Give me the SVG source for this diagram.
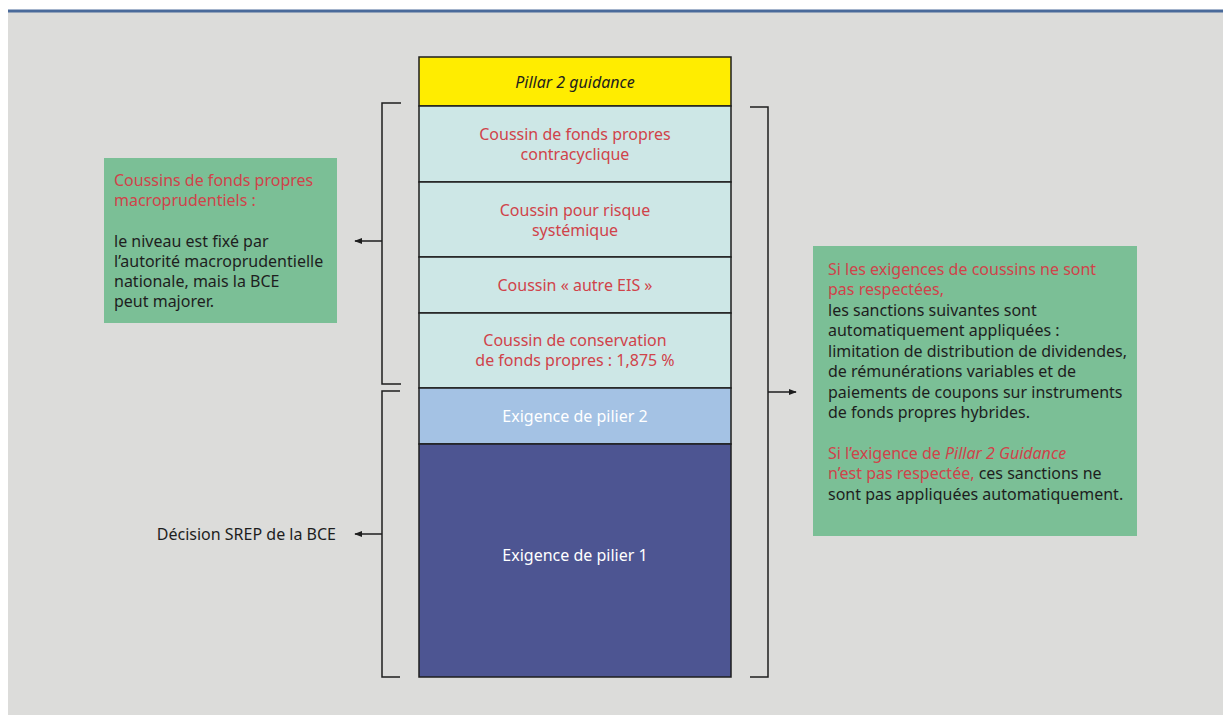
<svg xmlns="http://www.w3.org/2000/svg" width="1223" height="715" viewBox="0 0 1223 715">
<defs>
<style>
text{font-family:"Noto Sans","Open Sans",sans-serif;font-size:16px;}
.c{text-anchor:middle;}
.red{fill:#d0434a;}
.blk{fill:#1e1e1e;}
.wh{fill:#ffffff;}
.cell{stroke:#1e1e1e;stroke-width:1.5;}
.br{fill:none;stroke:#1e1e1e;stroke-width:1.5;}
.green{fill:#7bbf96;}
</style>
<marker id="ah" viewBox="0 0 10 10" refX="9" refY="5" markerWidth="8" markerHeight="8" markerUnits="userSpaceOnUse" orient="auto">
<path d="M0,1 L10,5 L0,9 z" fill="#1e1e1e"/>
</marker>
</defs>
<rect x="0" y="0" width="1223" height="715" fill="#ffffff"/>
<rect x="8" y="12" width="1215" height="703" fill="#dcdcda"/>
<rect x="8" y="9.5" width="1215" height="3" fill="#4a6a9a"/>

<g id="pillar2guidance"><rect class="cell" x="419" y="57" width="312" height="49" fill="#ffed00"/><text class="c blk" x="575" y="88" font-style="italic">Pillar 2 guidance</text></g>
<g id="contracyclique"><rect class="cell" x="419" y="106" width="312" height="76" fill="#cde7e6"/><text class="c red" x="575" y="140">Coussin de fonds propres</text><text class="c red" x="575" y="160">contracyclique</text></g>
<g id="systemique"><rect class="cell" x="419" y="182" width="312" height="75" fill="#cde7e6"/><text class="c red" x="575" y="216">Coussin pour risque</text><text class="c red" x="575" y="236">systémique</text></g>
<g id="autreEIS"><rect class="cell" x="419" y="257" width="312" height="56" fill="#cde7e6"/><text class="c red" x="575" y="291">Coussin « autre EIS »</text></g>
<g id="conservation"><rect class="cell" x="419" y="313" width="312" height="75" fill="#cde7e6"/><text class="c red" x="575" y="346">Coussin de conservation</text><text class="c red" x="575" y="366">de fonds propres : 1,875 %</text></g>
<g id="pilier2"><rect class="cell" x="419" y="388" width="312" height="56" fill="#a4c2e4"/><text class="c wh" x="575" y="422">Exigence de pilier 2</text></g>
<g id="pilier1"><rect class="cell" x="419" y="444" width="312" height="233" fill="#4d5592"/><text class="c wh" x="575" y="561">Exigence de pilier 1</text></g>

<g id="macro"><rect class="green" x="104" y="158" width="233" height="165"/>
<text class="red" x="114" y="186">Coussins de fonds propres</text>
<text class="red" x="114" y="206">macroprudentiels :</text>
<text class="blk" x="114" y="247">le niveau est fixé par</text>
<text class="blk" x="114" y="267">l’autorité macroprudentielle</text>
<text class="blk" x="114" y="287">nationale, mais la BCE</text>
<text class="blk" x="114" y="307">peut majorer.</text>
</g>

<g id="srep"><text class="blk" x="336" y="540" text-anchor="end">Décision SREP de la BCE</text></g>

<g id="sanctions"><rect class="green" x="813" y="246" width="324" height="290"/>
<text class="red" x="828" y="275">Si les exigences de coussins ne sont</text>
<text class="red" x="828" y="295">pas respectées,</text>
<text class="blk" x="828" y="316">les sanctions suivantes sont</text>
<text class="blk" x="828" y="336">automatiquement appliquées :</text>
<text class="blk" x="828" y="357">limitation de distribution de dividendes,</text>
<text class="blk" x="828" y="377">de rémunérations variables et de</text>
<text class="blk" x="828" y="398">paiements de coupons sur instruments</text>
<text class="blk" x="828" y="418">de fonds propres hybrides.</text>
<text class="red" x="828" y="459">Si l’exigence de <tspan font-style="italic">Pillar 2 Guidance</tspan></text>
<text x="828" y="479"><tspan class="red">n’est pas respectée,</tspan><tspan class="blk"> ces sanctions ne</tspan></text>
<text class="blk" x="828" y="500">sont pas appliquées automatiquement.</text>
</g>

<g id="connectors">
<path class="br" d="M401,103 H382 V384 H401"/>
<path class="br" d="M400,391 H382 V677 H400"/>
<path class="br" d="M750,107 H768 V677 H750"/>
<line class="br" x1="382" y1="241" x2="355" y2="241" marker-end="url(#ah)"/>
<line class="br" x1="382" y1="534" x2="355" y2="534" marker-end="url(#ah)"/>
<line class="br" x1="768" y1="392" x2="796" y2="392" marker-end="url(#ah)"/>
</g>
</svg>
